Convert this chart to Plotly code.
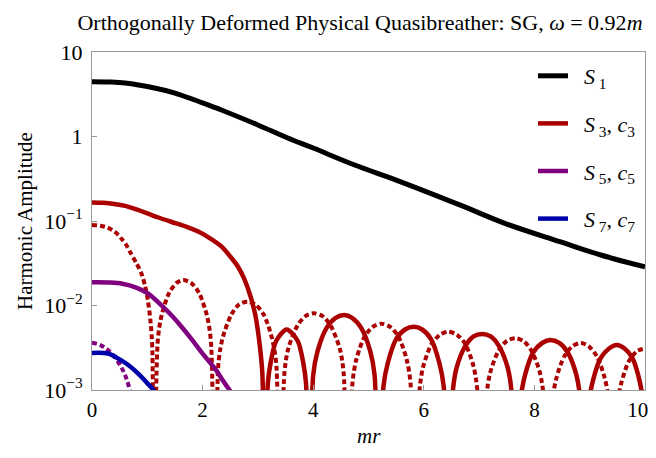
import plotly.graph_objects as go

# ---------------- data ----------------
x_S1 = [0, 0.3, 0.6, 1.13, 1.5, 2.0, 2.34, 3.0, 3.54, 4.0, 4.75, 5.5, 6.65, 7.5, 8.46, 9.2, 10.0]
y_S1 = [4.45, 4.42, 4.3, 3.75, 3.27, 2.5, 2.06, 1.37, 0.96, 0.73, 0.46, 0.305, 0.155, 0.092, 0.057, 0.0396, 0.0286]

x_S3 = [0, 0.2, 0.4, 0.6, 0.83, 1.0, 1.2, 1.43, 1.7, 1.92, 2.1, 2.34, 2.5, 2.64, 2.75, 2.87, 2.95, 3.02, 3.08, 3.13,
        3.18, 3.23, 3.33, 3.52, 3.72, 3.82, 3.87, 3.92,
        4.00, 4.08, 4.24, 4.40, 4.56, 4.71, 4.87, 5.03, 5.11, 5.19,
        5.27, 5.35, 5.50, 5.66, 5.82, 5.97, 6.13, 6.28, 6.36, 6.44,
        6.52, 6.59, 6.75, 6.90, 7.05, 7.21, 7.36, 7.52, 7.59, 7.67,
        7.75, 7.83, 7.98, 8.14, 8.29, 8.45, 8.60, 8.76, 8.83, 8.91,
        8.98, 9.06, 9.20, 9.35, 9.49, 9.63, 9.77, 9.90, 9.97, 10.04]
y_S3 = [0.166, 0.164, 0.159, 0.151, 0.135, 0.123, 0.110, 0.098, 0.086, 0.075, 0.0646, 0.050, 0.038, 0.0288, 0.0209, 0.0126, 0.0079, 0.0040, 0.0016, 1e-5,
        0.0012, 0.0021, 0.0038, 0.0052, 0.0038, 0.0021, 0.0012, 1e-5,
        0.0015, 0.0029, 0.0054, 0.0071, 0.0077, 0.0071, 0.0054, 0.0029, 0.0015, 1e-5,
        0.0011, 0.0021, 0.0040, 0.0052, 0.0056, 0.0052, 0.0040, 0.0021, 0.0011, 1e-5,
        0.0009, 0.0018, 0.0033, 0.0043, 0.0046, 0.0043, 0.0033, 0.0018, 0.0009, 1e-5,
        0.00076, 0.0015, 0.0028, 0.0036, 0.0039, 0.0036, 0.0028, 0.0015, 0.00076, 1e-5,
        0.00066, 0.0013, 0.0024, 0.0031, 0.0034, 0.0031, 0.0024, 0.0013, 0.00066, 1e-5]

x_c3 = [0, 0.15, 0.29, 0.42, 0.53, 0.62, 0.7, 0.8, 0.89, 0.96, 1.01, 1.06, 1.09, 1.12,
        1.19, 1.26, 1.395, 1.53, 1.65, 1.80, 1.94, 2.08, 2.15, 2.22,
        2.29, 2.37, 2.52, 2.66, 2.81, 2.96, 3.11, 3.25, 3.33, 3.40,
        3.48, 3.55, 3.71, 3.86, 4.01, 4.17, 4.32, 4.48, 4.55, 4.63,
        4.71, 4.78, 4.93, 5.08, 5.23, 5.39, 5.54, 5.69, 5.76, 5.84,
        5.92, 5.99, 6.14, 6.29, 6.44, 6.60, 6.75, 6.90, 6.97, 7.05,
        7.13, 7.20, 7.35, 7.50, 7.65, 7.80, 7.95, 8.10, 8.17, 8.25,
        8.32, 8.40, 8.54, 8.69, 8.84, 8.98, 9.13, 9.27, 9.35, 9.42,
        9.49, 9.57, 9.71, 9.86, 10.0]
y_c3 = [0.0897, 0.088, 0.083, 0.074, 0.062, 0.052, 0.0417, 0.032, 0.0243, 0.017, 0.0116, 0.0063, 0.0032, 1e-5,
        0.0039, 0.0077, 0.0141, 0.0185, 0.020, 0.0183, 0.0139, 0.0075, 0.0038, 1e-5,
        0.0022, 0.0043, 0.0078, 0.0103, 0.0111, 0.0102, 0.0077, 0.0042, 0.0021, 1e-5,
        0.0016, 0.0031, 0.0057, 0.0075, 0.0081, 0.0075, 0.0057, 0.0031, 0.0016, 1e-5,
        0.0012, 0.0023, 0.0043, 0.0056, 0.0061, 0.0056, 0.0043, 0.0023, 0.0012, 1e-5,
        0.00096, 0.0019, 0.0035, 0.0045, 0.0049, 0.0045, 0.0035, 0.0019, 0.00096, 1e-5,
        0.0008, 0.0016, 0.0029, 0.0038, 0.0041, 0.0038, 0.0029, 0.0016, 0.0008, 1e-5,
        0.0007, 0.0014, 0.0025, 0.0033, 0.0036, 0.0033, 0.0025, 0.0014, 0.0007, 1e-5,
        0.0006, 0.0012, 0.0022, 0.0029, 0.0031]

x_S5 = [0, 0.3, 0.55, 0.8, 1.01, 1.28, 1.45, 1.6, 1.8, 2.0, 2.22, 2.4, 2.53, 2.62, 2.7, 2.76]
y_S5 = [0.0188, 0.0187, 0.0181, 0.0163, 0.0139, 0.0097, 0.0075, 0.0058, 0.0040, 0.0027, 0.0018, 0.0012, 0.0009, 0.0006, 0.0003, 1e-5]

x_c5 = [0, 0.15, 0.29, 0.47, 0.58, 0.65, 0.72, 0.78, 0.82]
y_c5 = [0.00363, 0.0034, 0.00297, 0.00216, 0.0016, 0.0012, 0.0008, 0.0004, 1e-5]

x_S7 = [0, 0.29, 0.5, 0.69, 0.89, 1.0, 1.11, 1.25, 1.35]
y_S7 = [0.00275, 0.0027, 0.0023, 0.0019, 0.00144, 0.0012, 0.001, 0.0007, 0.0004]

y_tickvals = [0.001, 0.01, 0.1, 1, 10]
y_ticktext = ["10<sup>\u22123</sup>", "10<sup>\u22122</sup>", "10<sup>\u22121</sup>", "1", "10"]
x_tickvals = [0, 2, 4, 6, 8, 10]
x_ticktext = ["0", "2", "4", "6", "8", "10\u2002\u2009"]

RED = "rgb(170,0,0)"
PURPLE = "rgb(128,0,128)"
BLUE = "rgb(0,0,170)"
FONT = "Liberation Serif"
SP = "\u2002"

# page has an 8px body margin: figure is sized so that it fits the 656x458 window
W, H = 648, 442
L, R, T, B = 84, 11, 44, 60
PW, PH = W - L - R, H - T - B

fig = go.Figure()
fig.add_trace(go.Scatter(x=x_S1, y=y_S1, mode="lines", name=SP + "<i>S</i><sub> 1</sub>",
                         legendgroup="g1", line=dict(color="black", width=5, shape="spline")))
fig.add_trace(go.Scatter(x=x_S3, y=y_S3, mode="lines", name=SP + "<i>S</i><sub> 3</sub>, <i>c</i><sub>3</sub>",
                         legendgroup="g3", line=dict(color=RED, width=4.5, shape="spline", smoothing=0.8)))
fig.add_trace(go.Scatter(x=x_c3, y=y_c3, mode="lines", showlegend=False,
                         legendgroup="g3", line=dict(color=RED, width=4, dash="5px,3px", shape="spline", smoothing=0.8)))
fig.add_trace(go.Scatter(x=x_S5, y=y_S5, mode="lines", name=SP + "<i>S</i><sub> 5</sub>, <i>c</i><sub>5</sub>",
                         legendgroup="g5", line=dict(color=PURPLE, width=4.5, shape="spline")))
fig.add_trace(go.Scatter(x=x_c5, y=y_c5, mode="lines", showlegend=False,
                         legendgroup="g5", line=dict(color=PURPLE, width=4, dash="5px,3px", shape="spline")))
fig.add_trace(go.Scatter(x=x_S7, y=y_S7, mode="lines", name=SP + "<i>S</i><sub> 7</sub>, <i>c</i><sub>7</sub>",
                         legendgroup="g7", line=dict(color=BLUE, width=4.5, shape="spline")))

fig.update_layout(
    width=W, height=H,
    margin=dict(l=L, r=R, t=T, b=B, pad=0, autoexpand=False),
    paper_bgcolor="white", plot_bgcolor="white",
    font=dict(family=FONT, size=22, color="black"),
    title=dict(text="Orthogonally Deformed Physical Quasibreather: SG, <i>\u03c9</i> = 0.92<i>m</i>",
               x=352 / W, xanchor="center", xref="container", y=1 - 14 / H, yanchor="middle",
               yref="container", automargin=False,
               font=dict(family=FONT, size=22)),
    showlegend=True,
    legend=dict(x=(525 - L) / PW, xanchor="left", y=1 - 3 / PH, yanchor="top",
                bgcolor="rgba(0,0,0,0)", tracegroupgap=16,
                font=dict(family=FONT, size=22), itemwidth=30),
    annotations=[
        dict(text="Harmonic Amplitude", xref="paper", yref="paper", x=-(L - 17) / PW, y=0.5,
             xanchor="center", yanchor="middle", textangle=-90, showarrow=False,
             font=dict(family=FONT, size=21)),
        dict(text="<i>mr</i>", xref="paper", yref="paper", x=0.5, y=-46 / PH,
             xanchor="center", yanchor="middle", showarrow=False,
             font=dict(family=FONT, size=21)),
    ],
)
fig.update_xaxes(range=[0, 10], showline=True, linecolor="#999999", linewidth=1, mirror=True,
                 ticks="inside", ticklen=5, tickcolor="#999999", tickvals=x_tickvals, ticktext=x_ticktext,
                 ticklabeloverflow="allow",
                 showgrid=False, zeroline=False, automargin=False, ticklabelstandoff=1,
                 tickfont=dict(size=21))
fig.update_yaxes(type="log", range=[-3, 1], showline=True, linecolor="#999999", linewidth=1, mirror=True,
                 ticks="inside", ticklen=5, tickcolor="#999999",
                 tickvals=y_tickvals, ticktext=y_ticktext, automargin=False,
                 showgrid=False, zeroline=False, ticklabelstandoff=4, tickfont=dict(size=22))

fig.write_html("out.html")
